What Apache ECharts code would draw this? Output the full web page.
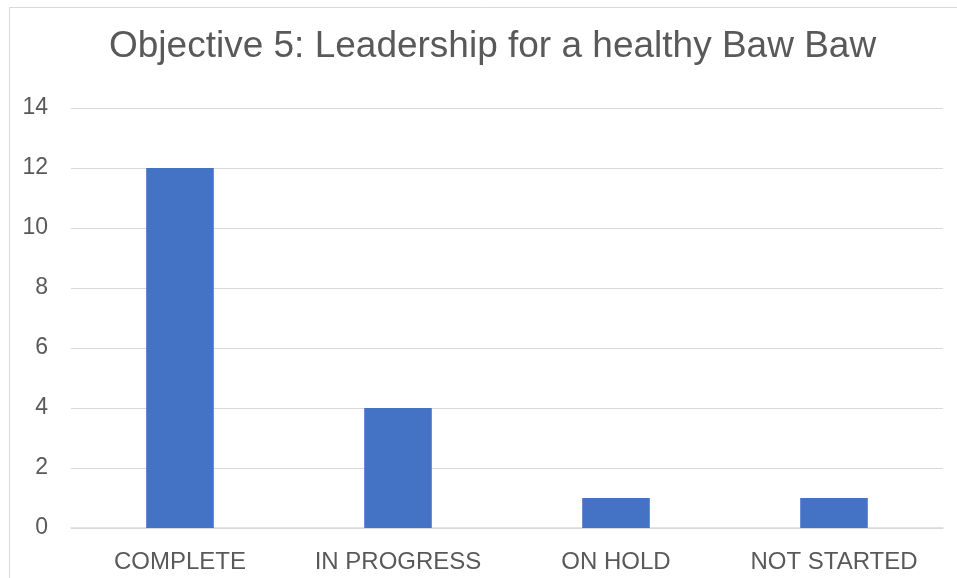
<!DOCTYPE html>
<html>
<head>
<meta charset="utf-8">
<script src="https://cdn.jsdelivr.net/npm/echarts@6/dist/echarts.min.js"></script>
<style>
  html, body { margin: 0; padding: 0; background: #fff; }
  #chart { width: 957px; height: 578px; }
</style>
</head>
<body>
<div id="chart"></div>
<script>
const categories = ['COMPLETE', 'IN PROGRESS', 'ON HOLD', 'NOT STARTED']
const counts = [12, 4, 1, 1]

const chart = echarts.init(document.getElementById('chart'))
chart.setOption({
  animation: false,
  textStyle: { fontFamily: 'Liberation Sans, Arial, sans-serif' },
  graphic: [
    {
      type: 'rect',
      shape: { x: 9.5, y: 7.5, width: 960, height: 600 },
      style: { fill: 'none', stroke: '#d9d9d9', lineWidth: 1 },
      silent: true
    }
  ],
  title: {
    text: 'Objective 5: Leadership for a healthy Baw Baw',
    left: 104,
    top: 23,
    textStyle: { fontSize: 37, fontWeight: 'normal', color: '#595959' }
  },
  grid: { left: 71, right: 14, top: 108, bottom: 50 },
  xAxis: {
    type: 'category',
    data: categories,
    axisLine: { lineStyle: { color: '#d9d9d9', width: 1.5 } },
    axisTick: { show: false },
    axisLabel: { fontSize: 24, color: '#595959', margin: 22 }
  },
  yAxis: {
    type: 'value',
    min: 0,
    max: 14,
    interval: 2,
    axisLine: { show: false },
    axisTick: { show: false },
    splitLine: { lineStyle: { color: '#d9d9d9', width: 1 } },
    axisLabel: { fontSize: 23, color: '#595959', margin: 23 }
  },
  series: [
    {
      type: 'bar',
      data: counts,
      barWidth: '31%',
      itemStyle: { color: '#4472c4' }
    }
  ]
})
</script>
</body>
</html>
